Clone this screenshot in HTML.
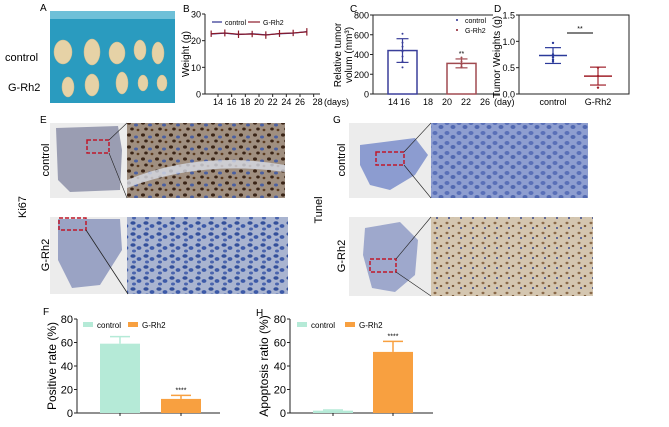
<!DOCTYPE html>
<html><head><meta charset="utf-8"><style>
body{margin:0;background:#fff;}
svg{display:block;font-family:"Liberation Sans",Arial,sans-serif;}
</style></head><body>
<svg width="669" height="427" viewBox="0 0 669 427" xmlns="http://www.w3.org/2000/svg">
<defs>
<pattern id="nucBrown" width="14" height="12" patternUnits="userSpaceOnUse">
<rect width="14" height="12" fill="#a08f80"/>
<ellipse cx="3" cy="3" rx="2" ry="1.6" fill="#3a2416"/><ellipse cx="10" cy="5" rx="2" ry="1.5" fill="#4a5fa0"/><ellipse cx="6" cy="9" rx="1.8" ry="1.5" fill="#3a2416"/><ellipse cx="12" cy="10" rx="1.4" ry="1.2" fill="#5a3a20"/>
</pattern>
<pattern id="nucBlue" width="13" height="11" patternUnits="userSpaceOnUse">
<rect width="13" height="11" fill="#a9b4d0"/>
<ellipse cx="3" cy="3" rx="2.6" ry="1.8" fill="#34509a"/><ellipse cx="9" cy="6" rx="2.4" ry="1.9" fill="#3d5aa8"/><ellipse cx="4" cy="9" rx="2" ry="1.5" fill="#4a64ad"/>
</pattern>
<pattern id="nucBlue2" width="12" height="10" patternUnits="userSpaceOnUse">
<rect width="12" height="10" fill="#8e9ed0"/>
<ellipse cx="3" cy="3" rx="2.5" ry="2" fill="#5a70b8"/><ellipse cx="9" cy="7" rx="2.5" ry="2" fill="#5168b0"/>
</pattern>
<pattern id="nucTan" width="12" height="10" patternUnits="userSpaceOnUse">
<rect width="12" height="10" fill="#d4c6b0"/>
<ellipse cx="3" cy="3" rx="1.5" ry="1.2" fill="#8a6a4a"/><ellipse cx="9" cy="6" rx="1.3" ry="1.1" fill="#7a5a3a"/><ellipse cx="5" cy="8" rx="1" ry="1" fill="#3a4a8a"/>
</pattern>
</defs>

<text x="40" y="11" font-size="10">A</text>
<rect x="50" y="11" width="125" height="92" fill="#2a9bbf"/>
<rect x="50" y="11" width="125" height="8" fill="#6fc0d8"/>
<g fill="#e6d2a6" stroke="#d8bf8c" stroke-width="0.5">
<ellipse cx="63" cy="52" rx="9" ry="12"/><ellipse cx="92" cy="52" rx="8" ry="13"/><ellipse cx="117" cy="53" rx="8" ry="11"/><ellipse cx="140" cy="50" rx="6" ry="10"/><ellipse cx="158" cy="53" rx="6" ry="11"/>
<ellipse cx="68" cy="87" rx="6" ry="10"/><ellipse cx="92" cy="85" rx="7" ry="11"/><ellipse cx="122" cy="83" rx="6" ry="11"/><ellipse cx="143" cy="83" rx="5" ry="8"/><ellipse cx="162" cy="83" rx="5" ry="8"/>
</g>
<text x="5" y="61" font-size="11">control</text>
<text x="8" y="91" font-size="11">G-Rh2</text>

<text x="183" y="12" font-size="10">B</text>
<g id="chartB"></g>

<text x="350" y="12" font-size="10">C</text>
<g id="chartC"></g>

<text x="494" y="12" font-size="10">D</text>
<g id="chartD"></g>

<text x="40" y="123" font-size="10">E</text>
<text transform="translate(26,207) rotate(-90)" font-size="11" text-anchor="middle">Ki67</text>
<text transform="translate(49,160) rotate(-90)" font-size="11" text-anchor="middle">control</text>
<text transform="translate(49,255) rotate(-90)" font-size="11" text-anchor="middle">G-Rh2</text>
<rect x="50" y="123" width="77" height="75" fill="#ececec"/>
<path d="M56 128 L118 126 L122 150 L120 190 L70 192 L58 180 Z" fill="#9a9db2"/>
<rect x="87" y="140" width="22" height="13" fill="none" stroke="#c0182a" stroke-width="1.5" stroke-dasharray="4,2"/>
<rect x="127" y="123" width="158" height="75" fill="url(#nucBrown)"/>
<path d="M127 180 Q200 150 285 165 L285 172 Q200 160 127 188 Z" fill="#d8dce6" opacity="0.8"/>
<line x1="109" y1="140" x2="127" y2="123" stroke="#222" stroke-width="0.6"/><line x1="109" y1="153" x2="127" y2="198" stroke="#222" stroke-width="0.6"/>
<rect x="50" y="217" width="77" height="77" fill="#ececec"/>
<path d="M58 219 L120 219 L122 250 L100 285 L72 288 L58 260 Z" fill="#9aa3c4"/>
<rect x="59" y="218" width="27" height="12" fill="none" stroke="#c0182a" stroke-width="1.5" stroke-dasharray="4,2"/>
<rect x="127" y="217" width="161" height="77" fill="url(#nucBlue)"/>
<line x1="86" y1="230" x2="128" y2="294" stroke="#222" stroke-width="0.8"/>

<text x="333" y="123" font-size="10">G</text>
<text transform="translate(322,210) rotate(-90)" font-size="11" text-anchor="middle">Tunel</text>
<text transform="translate(345,160) rotate(-90)" font-size="11" text-anchor="middle">control</text>
<text transform="translate(345,256) rotate(-90)" font-size="11" text-anchor="middle">G-Rh2</text>
<rect x="349" y="123" width="82" height="75" fill="#ececec"/>
<path d="M360 145 L415 138 L428 155 L415 175 L390 190 L370 185 L360 165 Z" fill="#8c9cd0"/>
<rect x="376" y="152" width="28" height="13" fill="none" stroke="#c0182a" stroke-width="1.5" stroke-dasharray="4,2"/>
<rect x="431" y="123" width="157" height="75" fill="url(#nucBlue2)"/>
<line x1="404" y1="152" x2="431" y2="123" stroke="#222" stroke-width="0.6"/><line x1="404" y1="165" x2="431" y2="198" stroke="#222" stroke-width="0.6"/>
<rect x="349" y="217" width="82" height="79" fill="#ececec"/>
<path d="M365 228 L400 222 L418 240 L415 275 L395 292 L372 288 L363 255 Z" fill="#9ea8cc"/>
<rect x="370" y="259" width="26" height="13" fill="none" stroke="#c0182a" stroke-width="1.5" stroke-dasharray="4,2"/>
<rect x="431" y="217" width="162" height="79" fill="url(#nucTan)"/>
<line x1="396" y1="259" x2="431" y2="217" stroke="#222" stroke-width="0.6"/><line x1="396" y1="272" x2="431" y2="296" stroke="#222" stroke-width="0.6"/>

<text x="43" y="315" font-size="10">F</text>
<g id="chartF"></g>
<text x="256" y="316" font-size="10">H</text>
<g id="chartH"></g>
</svg>
<script>
const bDays = [14,16,18,20,22,24,26,28];
const bTickLabels = ["14","16","18","20","22","24","26","28"];
const bControl = [22.5,22.8,22.3,22.6,22.2,22.6,22.8,23.4];
const bGRh2 = [22.6,22.9,22.4,22.5,22.1,22.7,22.9,23.3];
const bErr = [1.2,1.3,1.4,1.2,1.4,1.3,1.2,1.4];
const bYTicks = [0,10,20,30];

const cGroups = ["control","G-Rh2"];
const cMeans = [440,310];
const cErr = [120,45];
const cPointsControl = [610,520,480,430,380,330,270];
const cPointsGRh2 = [370,330,300,280,270];
const cXTickLabels = ["14","16","18","20","22","26"];
const cYTicks = [0,200,400,600,800];

const dGroups = ["control","G-Rh2"];
const dMeans = [0.73,0.34];
const dErr = [0.15,0.17];
const dPointsControl = [0.97,0.75,0.70,0.65,0.62];
const dPointsGRh2 = [0.50,0.34,0.12];
const dYTicks = [0,0.5,1.0,1.5];

const fValues = [59,12];
const fErr = [6,3];
const hValues = [2,52];
const hErr = [0.6,9];
const pctTicks = [0,20,40,60,80];

const NS="http://www.w3.org/2000/svg";
function mk(parent,tag,attrs,txt){const e=document.createElementNS(NS,tag);for(const k in attrs)e.setAttribute(k,attrs[k]);if(txt!==undefined)e.textContent=txt;parent.appendChild(e);return e;}

(function(){
const g=document.getElementById('chartB');
const x0=205,yb=94,yt=14;
const xs=d=>218+(d-14)*(82/12);
const ys=v=>yb-(v/30)*(yb-yt);
let e=mk(g,'line',{x1:x0,y1:yt,x2:x0,y2:yb,stroke:'#222','stroke-width':1});

e=mk(g,'line',{x1:x0,y1:yb,x2:320,y2:yb,stroke:'#222','stroke-width':1});

bYTicks.forEach(v=>{mk(g,'line',{x1:x0-3,y1:ys(v),x2:x0,y2:ys(v),stroke:'#222'});
e=mk(g,'text',{x:x0-4,y:ys(v)+3.5,'font-size':9,'text-anchor':'end'},String(v));
});
bDays.forEach((d,i)=>{mk(g,'line',{x1:xs(d),y1:yb,x2:xs(d),y2:yb+3,stroke:'#222'});
e=mk(g,'text',{x:xs(d)+(i==7?4:0),y:yb+11,'font-size':9,'text-anchor':'middle'},bTickLabels[i]);
});
e=mk(g,'text',{x:324,y:yb+11,'font-size':9},'(days)');

e=mk(g,'text',{transform:`translate(189,54) rotate(-90)`,'font-size':10,'text-anchor':'middle'},'Weight (g)');

const days=bDays.slice(0,bControl.length);
const pc=days.map((d,i)=>xs(d-1)+','+ys(bControl[i])).join(' ');
e=mk(g,'polyline',{points:pc,fill:'none',stroke:'#2b2f8f','stroke-width':1.2});

const pr=days.map((d,i)=>xs(d-1)+','+ys(bGRh2[i])).join(' ');
e=mk(g,'polyline',{points:pr,fill:'none',stroke:'#8b1a2a','stroke-width':1.2});

days.forEach((d,i)=>{const x=xs(d-1);
e=mk(g,'line',{x1:x,y1:ys(bGRh2[i]+bErr[i]),x2:x,y2:ys(bGRh2[i]-bErr[i]),stroke:'#8b1a2a','stroke-width':1.2});
});
mk(g,'line',{x1:212,y1:22,x2:222,y2:22,stroke:'#2b2f8f','stroke-width':1.2});
e=mk(g,'text',{x:225,y:25,'font-size':7},'control');
mk(g,'line',{x1:248,y1:22,x2:260,y2:22,stroke:'#8b1a2a','stroke-width':1.2});
e=mk(g,'text',{x:263,y:25,'font-size':7},'G-Rh2');
})();

(function(){
const g=document.getElementById('chartC');
const x0=373,yb=94,yt=15;
const ys=v=>yb-(v/800)*(yb-yt);
const cx=[402.5,461.5],bw=29,cols=['#3a3f9a','#a04a50'];
let e=mk(g,'polyline',{points:`${x0},${yt} ${x0},${yb} 500,${yb}`,fill:'none',stroke:'#222'});

mk(g,'line',{x1:x0,y1:yt,x2:493,y2:yt,stroke:'#222'});
cYTicks.forEach(v=>{mk(g,'line',{x1:x0-3,y1:ys(v),x2:x0,y2:ys(v),stroke:'#222'});
e=mk(g,'text',{x:x0-4,y:ys(v)+3.5,'font-size':9,'text-anchor':'end'},String(v));
});
const tx=[393,405,428,447,466,485];
cXTickLabels.forEach((t,i)=>{e=mk(g,'text',{x:tx[i],y:yb+11,'font-size':9,'text-anchor':'middle'},t);
});
e=mk(g,'text',{x:494,y:yb+11,'font-size':9},'(day)');
e=mk(g,'text',{transform:`translate(341,55) rotate(-90)`,'font-size':10,'text-anchor':'middle'},'Relative tumor');

e=mk(g,'text',{transform:`translate(352,55) rotate(-90)`,'font-size':10,'text-anchor':'middle'},'volum (mm³)');

cMeans.forEach((m,i)=>{
e=mk(g,'rect',{x:cx[i]-bw/2,y:ys(m),width:bw,height:yb-ys(m),fill:'none',stroke:cols[i],'stroke-width':1.5});

mk(g,'line',{x1:cx[i],y1:ys(m+cErr[i]),x2:cx[i],y2:ys(m-cErr[i]),stroke:cols[i],'stroke-width':1.2});
mk(g,'line',{x1:cx[i]-6,y1:ys(m+cErr[i]),x2:cx[i]+6,y2:ys(m+cErr[i]),stroke:cols[i],'stroke-width':1.2});
mk(g,'line',{x1:cx[i]-6,y1:ys(m-cErr[i]),x2:cx[i]+6,y2:ys(m-cErr[i]),stroke:cols[i],'stroke-width':1.2});
const pts=i==0?cPointsControl:cPointsGRh2;
pts.forEach(p=>{e=mk(g,'circle',{cx:cx[i],cy:ys(p),r:1,fill:cols[i]});});
});
e=mk(g,'text',{x:cx[1],y:ys(cMeans[1]+cErr[1])-3,'font-size':7,'text-anchor':'middle'},'**');

mk(g,'circle',{cx:457,cy:20,r:1,fill:'#2b2f8f'});
e=mk(g,'text',{x:465,y:23,'font-size':7},'control');
mk(g,'circle',{cx:457,cy:30,r:1,fill:'#8b1a2a'});
e=mk(g,'text',{x:465,y:33,'font-size':7},'G-Rh2');
})();

(function(){
const g=document.getElementById('chartD');
const x0=519,x1=629,yb=94,yt=15;
const ys=v=>yb-(v/1.5)*(yb-yt);
const cx=[553,598],cols=['#2b3a9a','#a0202a'];
let e=mk(g,'rect',{x:x0,y:yt,width:x1-x0,height:yb-yt,fill:'none',stroke:'#222'});

dYTicks.forEach(v=>{mk(g,'line',{x1:x0-3,y1:ys(v),x2:x0,y2:ys(v),stroke:'#222'});
e=mk(g,'text',{x:x0-4,y:ys(v)+3.5,'font-size':9,'text-anchor':'end'},v.toFixed(1));
});
dGroups.forEach((t,i)=>{e=mk(g,'text',{x:cx[i],y:yb+11,'font-size':9,'text-anchor':'middle'},t);
});
e=mk(g,'text',{transform:`translate(500,57) rotate(-90)`,'font-size':10,'text-anchor':'middle'},'Tumor Weights (g)');

dMeans.forEach((m,i)=>{
e=mk(g,'line',{x1:cx[i]-14,y1:ys(m),x2:cx[i]+14,y2:ys(m),stroke:cols[i],'stroke-width':1.5});

mk(g,'line',{x1:cx[i],y1:ys(m+dErr[i]),x2:cx[i],y2:ys(m-dErr[i]),stroke:cols[i],'stroke-width':1.2});
mk(g,'line',{x1:cx[i]-8,y1:ys(m+dErr[i]),x2:cx[i]+8,y2:ys(m+dErr[i]),stroke:cols[i],'stroke-width':1.2});
mk(g,'line',{x1:cx[i]-8,y1:ys(m-dErr[i]),x2:cx[i]+8,y2:ys(m-dErr[i]),stroke:cols[i],'stroke-width':1.2});
const pts=i==0?dPointsControl:dPointsGRh2;
pts.forEach(p=>{e=mk(g,'circle',{cx:cx[i],cy:ys(p),r:1.2,fill:cols[i]});});
});
mk(g,'line',{x1:567,y1:33,x2:593,y2:33,stroke:'#555','stroke-width':1.5});
e=mk(g,'text',{x:580,y:31,'font-size':7,'text-anchor':'middle'},'**');

})();

function barChart(id,prefix,vals,errs,x0,x1,cx,title,titleX,legX){
const g=document.getElementById(id);
const yb=413,yt=319;
const ys=v=>yb-(v/80)*(yb-yt);
const cols=['#b5ead7','#f8a040'],names=['control','G-Rh2'];
let e=mk(g,'polyline',{points:`${x0},${yt} ${x0},${yb} ${x1},${yb}`,fill:'none',stroke:'#222'});

pctTicks.forEach(v=>{mk(g,'line',{x1:x0-3,y1:ys(v),x2:x0,y2:ys(v),stroke:'#222'});
e=mk(g,'text',{x:x0-4,y:ys(v)+4,'font-size':11,'text-anchor':'end'},String(v));
});
e=mk(g,'text',{transform:`translate(${titleX},366) rotate(-90)`,'font-size':12,'text-anchor':'middle'},title);

vals.forEach((v,i)=>{
mk(g,'line',{x1:cx[i],y1:yb,x2:cx[i],y2:yb+3,stroke:'#222'});
mk(g,'line',{x1:cx[i],y1:ys(v),x2:cx[i],y2:ys(v+errs[i]),stroke:cols[i],'stroke-width':1.5});
mk(g,'line',{x1:cx[i]-10,y1:ys(v+errs[i]),x2:cx[i]+10,y2:ys(v+errs[i]),stroke:cols[i],'stroke-width':1.5});
e=mk(g,'rect',{x:cx[i]-20,y:ys(v),width:40,height:yb-ys(v),fill:cols[i]});

});
e=mk(g,'text',{x:cx[1],y:ys(vals[1]+errs[1])-3,'font-size':7,'text-anchor':'middle'},'****');

e=mk(g,'rect',{x:legX[0],y:322,width:10,height:5,fill:cols[0]});

e=mk(g,'text',{x:legX[0]+14,y:328,'font-size':8},'control');

e=mk(g,'rect',{x:legX[1],y:322,width:10,height:5,fill:cols[1]});

e=mk(g,'text',{x:legX[1]+14,y:328,'font-size':8},'G-Rh2');

}
barChart('chartF','f',fValues,fErr,77,220,[120,181],'Positive rate (%)',56,[83,128]);
barChart('chartH','h',hValues,hErr,290,433,[333,393],'Apoptosis ratio (%)',268,[297,345]);
</script>
</body></html>
